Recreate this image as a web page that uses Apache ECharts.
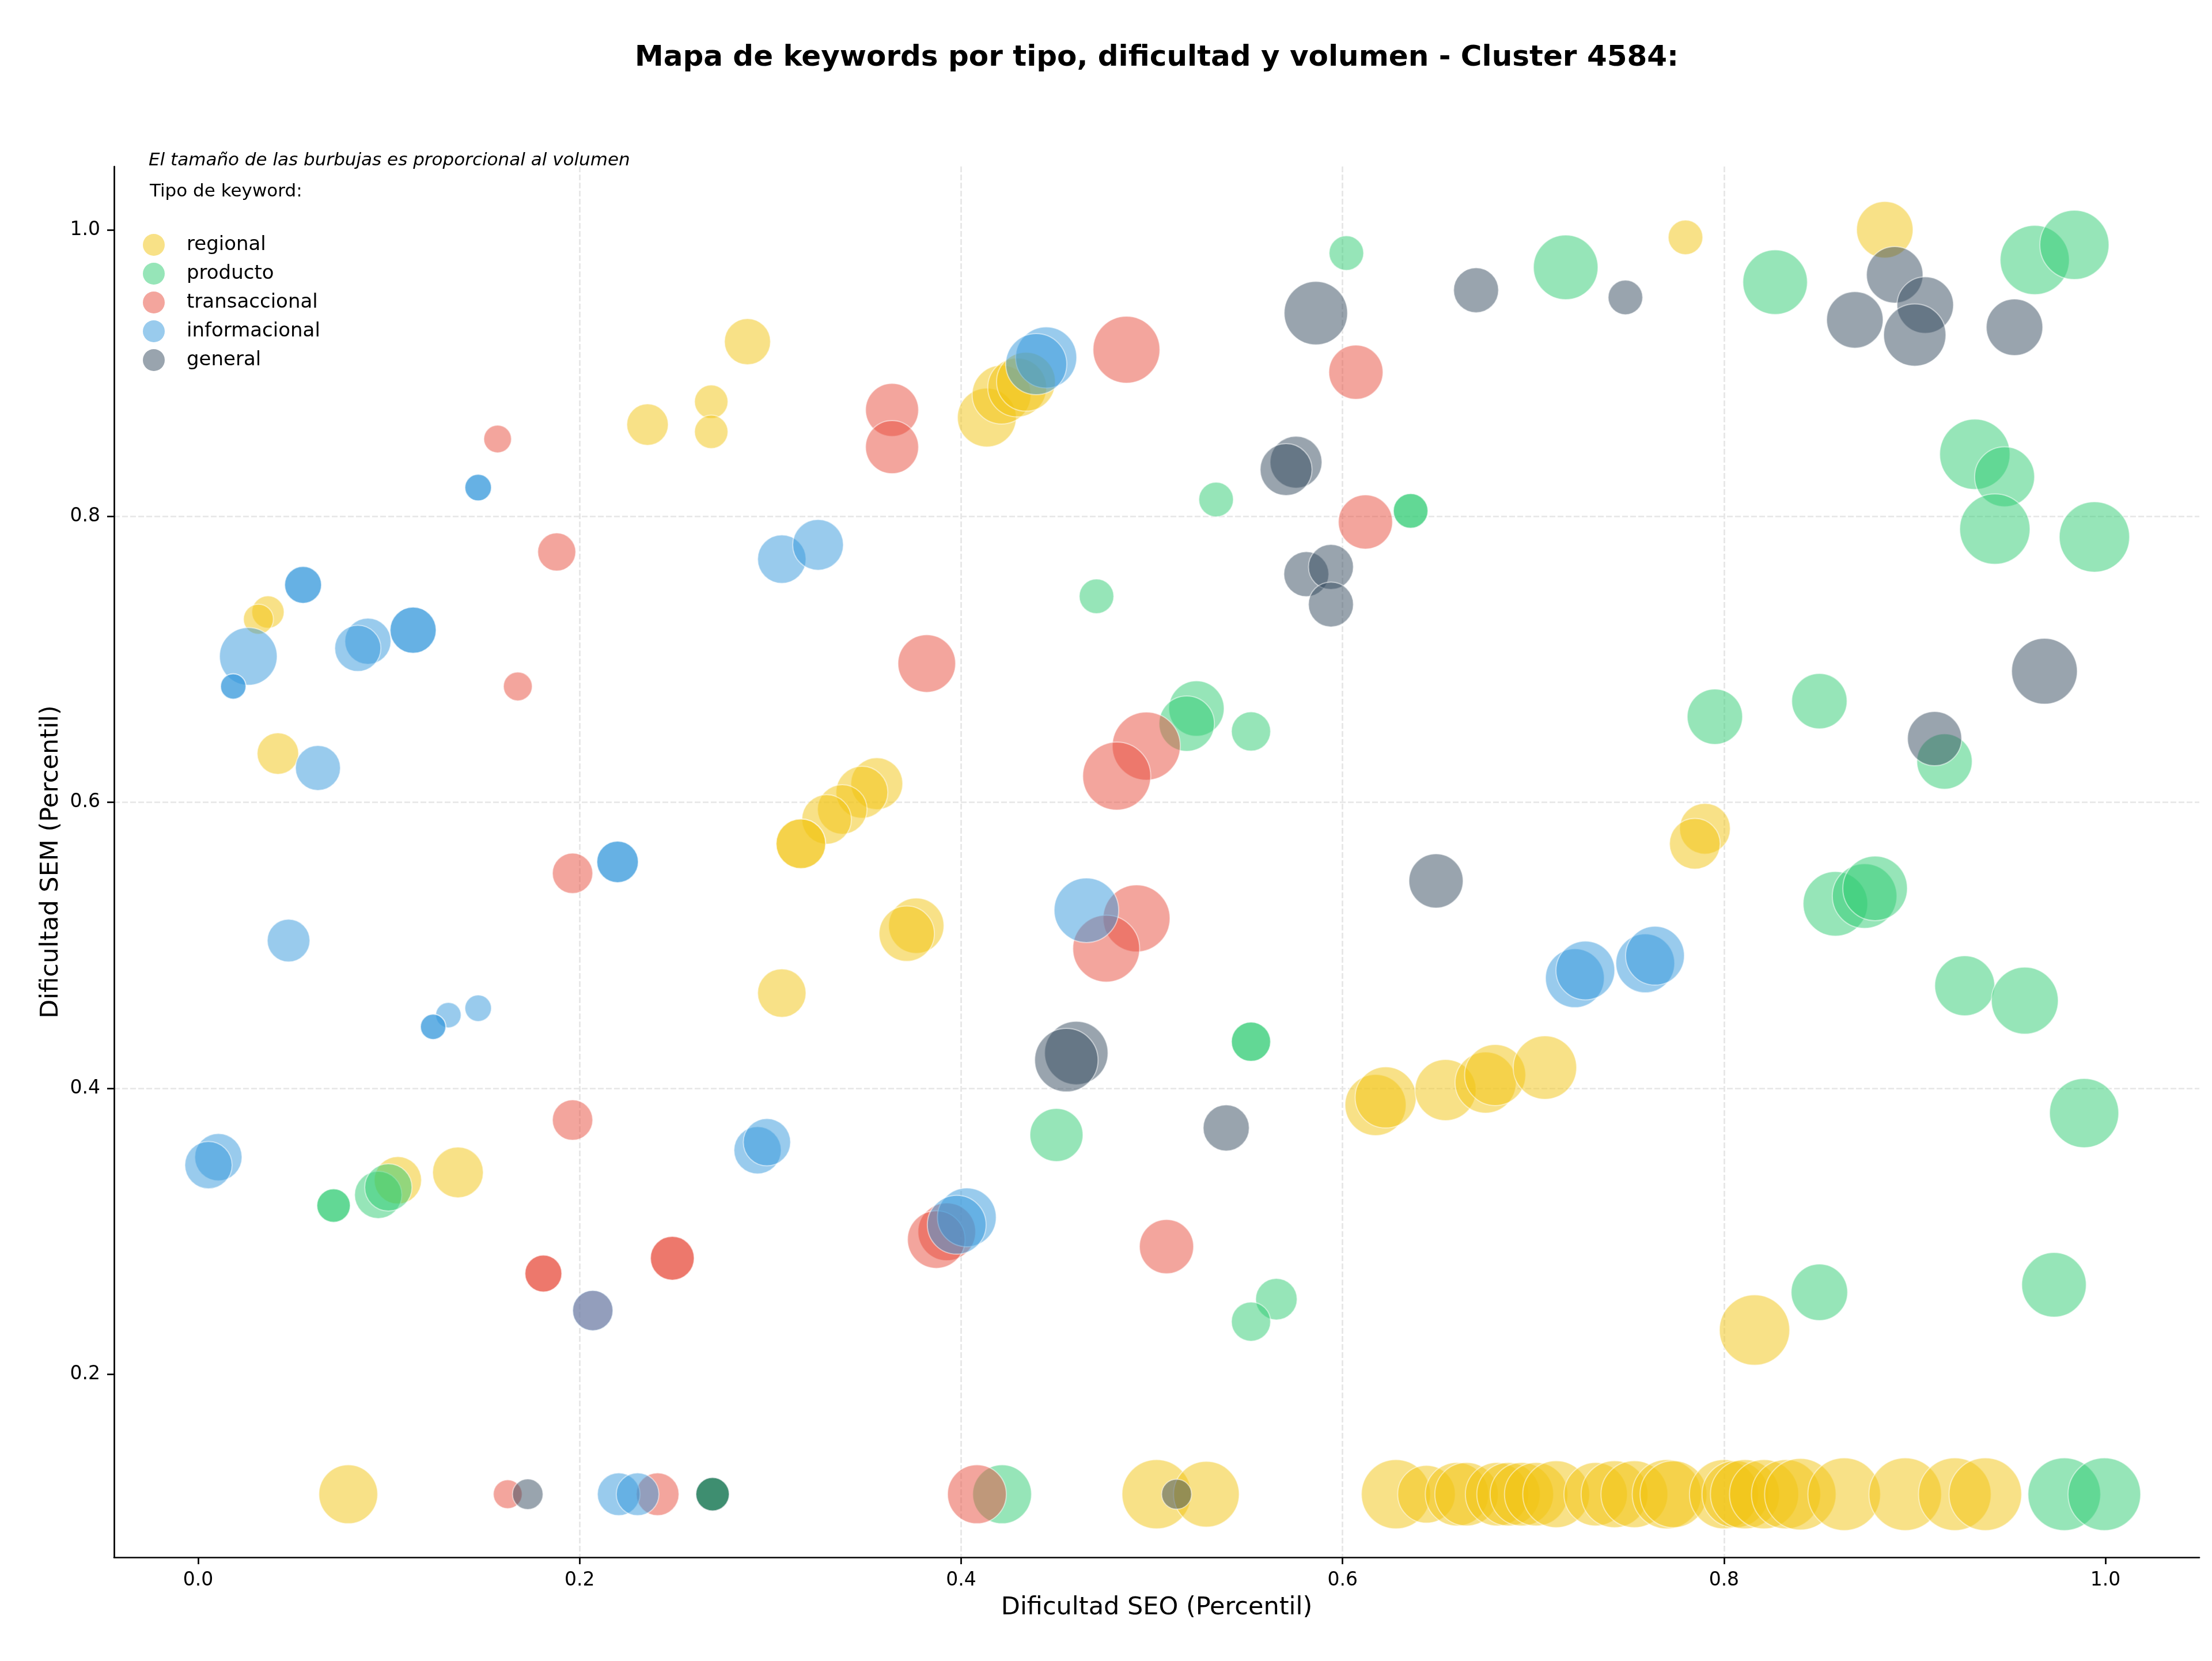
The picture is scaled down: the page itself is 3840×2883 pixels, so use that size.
<!DOCTYPE html>
<html>
<head>
<meta charset="utf-8">
<script src="https://cdn.jsdelivr.net/npm/echarts@6/dist/echarts.min.js"></script>
<style>
html, body { margin: 0; padding: 0; background: #fff; }
#chart { width: 3840px; height: 2883px; }
</style>
</head>
<body>
<div id="chart"></div>
<script>
// tipos de keyword (orden de dibujo = orden de leyenda)
const tipos = ['regional', 'producto', 'transaccional', 'informacional', 'general'];
const colores = ['#F1C40F', '#2ECC71', '#E74C3C', '#3498DB', '#34495E'];

// [dificultad SEO, dificultad SEM, volumen]
const regional = [
    [0.288, 0.922, 1600], [0.269, 0.880, 841], [0.2356, 0.864, 1296], [0.269, 0.859, 841],
    [0.0366, 0.733, 784], [0.0316, 0.728, 676], [0.0418, 0.634, 1296],
    [0.4135, 0.869, 2601], [0.4212, 0.885, 2601], [0.4294, 0.890, 2601], [0.434, 0.894, 2601],
    [0.3558, 0.613, 2025], [0.348, 0.607, 2025], [0.3377, 0.595, 1849], [0.3295, 0.588, 1849],
    [0.316, 0.571, 1849], [0.316, 0.571, 1849],
    [0.3765, 0.5137, 2304], [0.3715, 0.5081, 2304], [0.306, 0.4666, 1764],
    [0.1047, 0.3357, 1681], [0.1362, 0.3412, 1936],
    [0.6173, 0.3883, 2809], [0.6226, 0.3936, 2809], [0.654, 0.3988, 2809], [0.675, 0.404, 2809],
    [0.680, 0.4093, 2809], [0.7061, 0.4145, 3025],
    [0.7798, 0.995, 900], [0.8843, 1.0003, 2401], [0.790, 0.5815, 1936], [0.7847, 0.571, 1936],
    [0.816, 0.231, 3721],
    [0.0787, 0.1162, 2601], [0.5025, 0.1162, 3600], [0.5286, 0.1162, 3249], [0.628, 0.1162, 3600],
    [0.644, 0.1162, 2500], [0.660, 0.1162, 3025], [0.665, 0.1162, 3025], [0.681, 0.1162, 3025],
    [0.687, 0.1162, 3025], [0.694, 0.1162, 3025], [0.7015, 0.1162, 3025], [0.712, 0.1162, 3364],
    [0.7327, 0.1162, 3025], [0.7426, 0.1162, 3364], [0.753, 0.1162, 3364], [0.770, 0.1162, 3600],
    [0.7735, 0.1162, 3364], [0.800, 0.1162, 3600], [0.806, 0.1162, 3364], [0.811, 0.1162, 3600],
    [0.821, 0.1162, 3600], [0.8325, 0.1162, 3600], [0.840, 0.1162, 3844], [0.863, 0.1162, 3969],
    [0.895, 0.1162, 3969], [0.921, 0.1162, 3969], [0.937, 0.1162, 3969]
];
const producto = [
    [0.602, 0.984, 900], [0.5337, 0.8117, 900], [0.6357, 0.8037, 900], [0.6357, 0.8037, 900],
    [0.471, 0.744, 900], [0.5234, 0.6655, 2304], [0.5183, 0.655, 2304], [0.552, 0.6495, 1156],
    [0.552, 0.4326, 1156], [0.552, 0.4326, 1156], [0.450, 0.3674, 2116],
    [0.5653, 0.2526, 1296], [0.552, 0.2369, 1156],
    [0.071, 0.318, 841], [0.071, 0.318, 841], [0.0944, 0.3255, 1681], [0.0997, 0.3307, 1681],
    [0.717, 0.974, 3136], [0.8268, 0.9636, 3136], [0.9629, 0.9791, 3600], [0.9837, 0.9897, 3600],
    [0.9315, 0.8433, 3721], [0.9471, 0.8276, 2704], [0.942, 0.791, 3721], [0.9942, 0.7855, 3721],
    [0.7952, 0.6598, 2304], [0.850, 0.6707, 2304], [0.9156, 0.6285, 2304],
    [0.8584, 0.529, 3136], [0.8737, 0.5344, 3136], [0.8792, 0.5398, 3136],
    [0.9262, 0.4717, 2704], [0.9577, 0.4613, 3364], [0.9888, 0.3827, 3600],
    [0.850, 0.2574, 2401], [0.973, 0.2626, 3136],
    [0.4215, 0.1162, 2601], [0.9784, 0.1162, 3969], [0.9994, 0.1162, 3969],
    [0.2697, 0.1162, 841], [0.2697, 0.1162, 841], [0.2697, 0.1162, 841]
];
const transaccional = [
    [0.157, 0.854, 576], [0.188, 0.775, 1089], [0.1676, 0.681, 625], [0.1963, 0.5503, 1225],
    [0.1963, 0.3778, 1225], [0.181, 0.2705, 1024], [0.181, 0.2705, 1024],
    [0.2486, 0.2812, 1444], [0.2486, 0.2812, 1444], [0.2069, 0.2446, 1225],
    [0.3638, 0.8743, 2116], [0.3638, 0.8483, 2116], [0.4867, 0.9164, 3364],
    [0.607, 0.9007, 2209], [0.612, 0.796, 2209], [0.382, 0.697, 2500],
    [0.4971, 0.6393, 3481], [0.4816, 0.6183, 3481], [0.492, 0.5188, 3364], [0.4761, 0.4977, 3364],
    [0.3925, 0.2997, 2500], [0.387, 0.2943, 2500], [0.5077, 0.2893, 2209],
    [0.1623, 0.1162, 625], [0.2409, 0.1162, 1369], [0.4083, 0.1162, 2601]
];
const informacional = [
    [0.1468, 0.820, 529], [0.1468, 0.820, 529], [0.306, 0.770, 1764], [0.325, 0.780, 1936],
    [0.055, 0.752, 1024], [0.055, 0.752, 1024], [0.0263, 0.702, 2500],
    [0.0184, 0.681, 484], [0.0184, 0.681, 484], [0.089, 0.7126, 1600], [0.0837, 0.7076, 1600],
    [0.1127, 0.7203, 1600], [0.1127, 0.7203, 1600], [0.0628, 0.624, 1521],
    [0.2199, 0.5583, 1296], [0.2199, 0.5583, 1296], [0.0474, 0.5033, 1369],
    [0.1312, 0.4512, 484], [0.1232, 0.443, 484], [0.1232, 0.443, 484], [0.1468, 0.456, 529],
    [0.0106, 0.3519, 1681], [0.0054, 0.3463, 1681], [0.2933, 0.3567, 1681], [0.2982, 0.3623, 1681],
    [0.2069, 0.2446, 1225],
    [0.4446, 0.911, 2809], [0.4394, 0.9063, 2809], [0.4657, 0.5245, 3136],
    [0.403, 0.3098, 2601], [0.3977, 0.3046, 2601],
    [0.7218, 0.477, 2601], [0.7273, 0.4824, 2601], [0.7587, 0.4874, 2601], [0.7638, 0.4927, 2601],
    [0.2205, 0.1162, 1369], [0.2304, 0.1162, 1369]
];
const general = [
    [0.670, 0.958, 1521], [0.586, 0.942, 3025], [0.5756, 0.8378, 2025], [0.5704, 0.8326, 2025],
    [0.581, 0.7595, 1521], [0.5939, 0.7645, 1521], [0.5939, 0.7383, 1521], [0.7483, 0.953, 900],
    [0.8895, 0.9688, 2401], [0.9055, 0.9476, 2401], [0.900, 0.9267, 2916], [0.8686, 0.9373, 2401],
    [0.9523, 0.9321, 2401], [0.968, 0.6916, 3249], [0.9104, 0.6445, 2209], [0.649, 0.545, 2209],
    [0.4604, 0.4247, 3025], [0.4552, 0.4197, 3025], [0.539, 0.3723, 1600],
    [0.1728, 0.1162, 702], [0.513, 0.1162, 676], [0.2697, 0.1162, 841]
];
const datosPorTipo = [regional, producto, transaccional, informacional, general];

const xTicks = [0.0, 0.2, 0.4, 0.6, 0.8, 1.0];
const yTicks = [0.2, 0.4, 0.6, 0.8, 1.0];

const FONT = 'DejaVu Sans';
const chart = echarts.init(document.getElementById('chart'), null, {renderer: 'canvas'});

//ejes estilo matplotlib: solo spines izquierda/abajo, rejilla discontinua
function axisBase(ticks) {
    return {
        type: 'value',
        axisLine: {show: true, onZero: false, lineStyle: {color: '#000', width: 2.7}},
        axisTick: {show: true, inside: false, length: 12, customValues: ticks, lineStyle: {color: '#000', width: 2.7}},
        axisLabel: {
            customValues: ticks, margin: 24, fontSize: 33, color: '#000', fontFamily: FONT,
            formatter: function (v) { return Number(v).toFixed(1); }
        },
        splitLine: {show: true, showMinLine: false, showMaxLine: false,
            lineStyle: {color: '#e6e6e6', width: 2.7, type: [10, 4]}},
        nameLocation: 'middle',
        nameTextStyle: {fontSize: 43, color: '#000', fontFamily: FONT}
    };
}

const option = {
    animation: false,
    backgroundColor: '#fff',
    color: colores,
    grid: {left: 198, right: 22, top: 289, bottom: 180, containLabel: false},
    xAxis: Object.assign(axisBase(xTicks), {
        min: -0.0441, max: 1.0492, name: 'Dificultad SEO (Percentil)', nameGap: 66
    }),
    yAxis: Object.assign(axisBase(yTicks), {
        min: 0.0721, max: 1.0445, name: 'Dificultad SEM (Percentil)', nameGap: 86
    }),
    legend: {
        orient: 'vertical', left: 243, top: 401,
        itemWidth: 38, itemHeight: 38, itemGap: 12, icon: 'circle',
        itemStyle: {opacity: 0.5, borderWidth: 0},
        textStyle: {fontSize: 34, color: '#000', fontFamily: FONT, padding: [0, 0, 0, 33], lineHeight: 38},
        data: tipos
    },
    graphic: [
        {type: 'text', x: 2008, y: 101, style: {
            text: 'Mapa de keywords por tipo, dificultad y volumen - Cluster 4584:',
            font: 'bold 50px "DejaVu Sans"', fill: '#000', align: 'center', verticalAlign: 'middle'}},
        {type: 'text', x: 258, y: 279, style: {
            text: 'El tamaño de las burbujas es proporcional al volumen',
            font: 'italic 31px "DejaVu Sans"', fill: '#000', align: 'left', verticalAlign: 'middle'}},
        {type: 'text', x: 260, y: 333, style: {
            text: 'Tipo de keyword:',
            font: '31px "DejaVu Sans"', fill: '#000', align: 'left', verticalAlign: 'middle'}}
    ],
    series: tipos.map(function (t, i) {
        return {
            name: t,
            type: 'scatter',
            data: datosPorTipo[i],
            symbolSize: function (d) { return 2 * Math.sqrt(d[2]); },
            itemStyle: {color: colores[i], opacity: 0.5, borderColor: '#fff', borderWidth: 2},
            emphasis: {disabled: true},
            z: 2 + i
        };
    })
};
chart.setOption(option);
</script>
</body>
</html>
